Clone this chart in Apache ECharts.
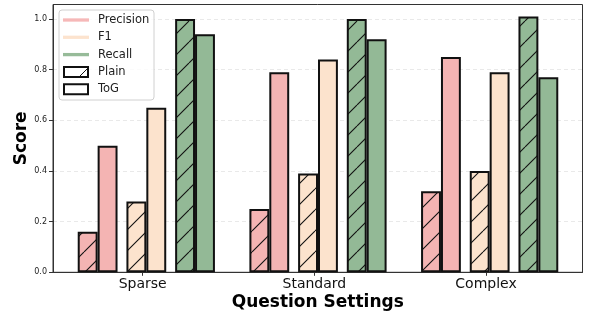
<!DOCTYPE html>
<html>
<head>
<meta charset="utf-8">
<script src="https://cdn.jsdelivr.net/npm/echarts@6/dist/echarts.min.js"></script>
<style>
html,body{margin:0;padding:0;background:#fff;}
#chart{width:589px;height:313px;}
</style>
</head>
<body>
<div id="chart"></div>
<script>
const categories = ['Sparse', 'Standard', 'Complex'];
const precisionPlain = [0.16, 0.25, 0.32];
const precisionToG = [0.50, 0.79, 0.85];
const f1Plain = [0.28, 0.39, 0.40];
const f1ToG = [0.65, 0.84, 0.79];
const recallPlain = [1.00, 1.00, 1.01];
const recallToG = [0.94, 0.92, 0.77];
const yTicks = [0, 0.2, 0.4, 0.6, 0.8, 1.0];
const metricNames = ['Precision', 'F1', 'Recall'];
const styleNames = ['Plain', 'ToG'];
const xTitle = 'Question Settings';
const yTitle = 'Score';

const colors = { Precision: '#F4B4B3', F1: '#FCE3CD', Recall: '#93B996' };
const legendColors = { Precision: 'rgba(244,172,172,0.85)', F1: 'rgba(252,222,198,0.85)', Recall: 'rgba(140,180,142,0.9)' };
const FONT = 'DejaVu Sans';

function hatch(color) {
  const s = 21;
  const c = document.createElement('canvas');
  c.width = s; c.height = s;
  const g = c.getContext('2d');
  g.fillStyle = color; g.fillRect(0, 0, s, s);
  g.strokeStyle = '#111'; g.lineWidth = 1.1;
  g.beginPath();
  for (const k of [-s, 0, s]) { g.moveTo(k, s); g.lineTo(k + s, 0); }
  g.stroke();
  return c;
}

// frame geometry
const L = 53, R = 582.5, T = 4.5, B = 272.3;
const YMAX = 1.0573;
const tick0 = 142.7, tickStep = 171.65;
const xMin = -(tick0 - L) / tickStep, xMax = (R - tick0) / tickStep;
const barLeft = 60.5, barWidthGrid = 515;

const BW = 19.9, GAP = 8.9;
function barSeries(name, data, color, hatched) {
  return {
    name: name, type: 'bar', xAxisIndex: 1, yAxisIndex: 1,
    data: data, barWidth: BW, barGap: '0%', barCategoryGap: '0%',
    itemStyle: { color: hatched ? { image: hatch(color), repeat: 'repeat' } : color,
      borderColor: '#111', borderWidth: 2 },
    emphasis: { disabled: true }, z: 3
  };
}
function spacer(id) {
  return { name: id, type: 'bar', xAxisIndex: 1, yAxisIndex: 1,
    data: categories.map(() => '-'), barWidth: GAP, barGap: '0%', silent: true };
}

const legendX = 59, legendY = 10;
const legendItems = [];
legendItems.push({ type: 'rect', shape: { x: legendX, y: legendY, width: 95, height: 90, r: 3 },
  style: { fill: 'rgba(255,255,255,0.8)', stroke: '#d0d0d0', lineWidth: 1 }, z: 10 });
const rowY = [20, 37.3, 54.6, 72, 89.3];
metricNames.forEach((m, i) => {
  legendItems.push({ type: 'line', shape: { x1: 63, y1: rowY[i], x2: 89, y2: rowY[i] },
    style: { stroke: legendColors[m], lineWidth: 3.3 }, z: 11 });
});
legendItems.push({ type: 'rect', shape: { x: 64, y: rowY[3] - 5, width: 24, height: 10 },
  style: { fill: '#fff', stroke: '#111', lineWidth: 2 }, z: 11 });
legendItems.push({ type: 'line', shape: { x1: 79, y1: rowY[3] + 5, x2: 88, y2: rowY[3] - 4 },
  style: { stroke: '#111', lineWidth: 1 }, z: 12 });
legendItems.push({ type: 'rect', shape: { x: 64, y: rowY[4] - 5, width: 24, height: 10 },
  style: { fill: '#fff', stroke: '#111', lineWidth: 2 }, z: 11 });
metricNames.concat(styleNames).forEach((t, i) => {
  legendItems.push({ type: 'text', x: 98, y: rowY[i], z: 12,
    style: { text: t, font: '11.5px "DejaVu Sans"', fill: '#222', verticalAlign: 'middle', align: 'left' } });
});

const chart = echarts.init(document.getElementById('chart'), null, { renderer: 'canvas' });
chart.setOption({
  backgroundColor: '#fff',
  animation: false,
  textStyle: { fontFamily: FONT },
  grid: [
    { left: L, top: T, width: R - L, height: B - T, show: true, borderColor: '#333', borderWidth: 1,
      backgroundColor: 'transparent', outerBoundsMode: 'none', containLabel: false },
    { left: barLeft, top: T, width: barWidthGrid, height: B - T, outerBoundsMode: 'none', containLabel: false }
  ],
  xAxis: [
    { type: 'value', gridIndex: 0, min: xMin, max: xMax,
      axisLine: { show: true, onZero: false, lineStyle: { color: '#333', width: 1 } },
      axisTick: { show: true, length: 3.5, lineStyle: { color: '#333' }, customValues: [0, 1, 2] },
      axisLabel: { show: true, customValues: [0, 1, 2], formatter: v => categories[Math.round(v)] || '',
        fontSize: 14, color: '#111', margin: 5, fontFamily: FONT },
      splitLine: { show: false },
      name: xTitle, nameLocation: 'middle', nameGap: 22, nameMoveOverlap: false,
      nameTextStyle: { fontSize: 17, fontWeight: 'bold', color: '#000', fontFamily: FONT } },
    { type: 'category', gridIndex: 1, data: categories, show: false }
  ],
  yAxis: [
    { type: 'value', gridIndex: 0, min: 0, max: YMAX,
      axisLine: { show: true, onZero: false, lineStyle: { color: '#333', width: 1 } },
      axisTick: { show: true, length: 4, lineStyle: { color: '#333' }, customValues: yTicks },
      axisLabel: { customValues: yTicks, formatter: v => v.toFixed(1), fontSize: 8, color: '#222', margin: 6, fontFamily: FONT },
      splitLine: { show: true, lineStyle: { color: '#e3e3e3', type: [4, 3], width: 0.8 } },
      name: yTitle, nameLocation: 'middle', nameGap: 23, nameMoveOverlap: false,
      nameTextStyle: { fontSize: 17, fontWeight: 'bold', color: '#000', fontFamily: FONT } },
    { type: 'value', gridIndex: 1, min: 0, max: YMAX, show: false }
  ],
  graphic: legendItems,
  series: [
    barSeries('Precision Plain', precisionPlain, colors.Precision, true),
    barSeries('Precision ToG', precisionToG, colors.Precision, false),
    spacer('gap1'),
    barSeries('F1 Plain', f1Plain, colors.F1, true),
    barSeries('F1 ToG', f1ToG, colors.F1, false),
    spacer('gap2'),
    barSeries('Recall Plain', recallPlain, colors.Recall, true),
    barSeries('Recall ToG', recallToG, colors.Recall, false)
  ]
});
</script>
</body>
</html>
